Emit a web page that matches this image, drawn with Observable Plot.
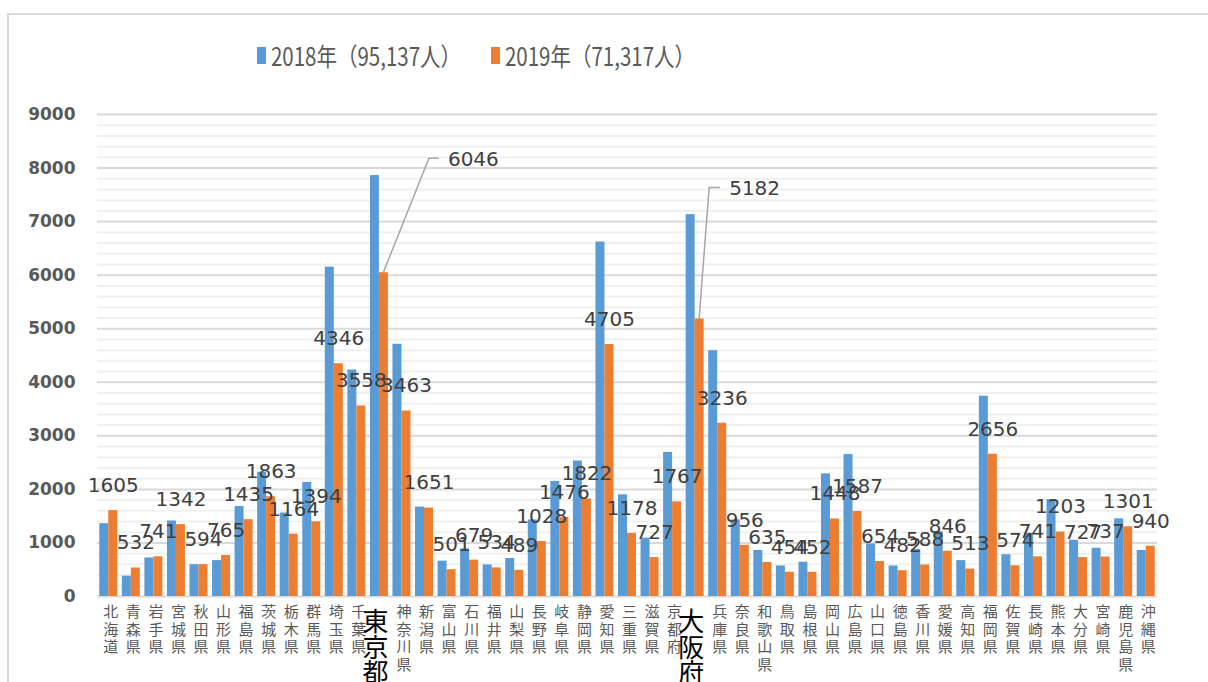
<!DOCTYPE html>
<html><head><meta charset="utf-8">
<script src="https://cdn.jsdelivr.net/npm/d3@7"></script>
<script src="https://cdn.jsdelivr.net/npm/@observablehq/plot@0.6"></script>
<style>
html,body{margin:0;padding:0;background:#fff;overflow:hidden;}
#wrap{position:relative;width:1208px;height:682px;overflow:hidden;background:#fff;}
#frame{position:absolute;left:7px;top:13px;width:1400px;height:900px;border:2px solid #D9D9D9;box-sizing:border-box;}
#chart{position:absolute;left:0;top:0;}
.item{position:absolute;top:35px;height:40px;display:flex;align-items:center;font-family:"Noto Sans CJK JP","Noto Sans",sans-serif;font-size:25px;color:#595959;white-space:nowrap;transform:scaleX(0.82);transform-origin:left center;}
.item i{display:inline-block;width:11px;height:17px;margin-right:6px;}
</style></head>
<body>
<div id="wrap"><div id="frame"></div><div id="chart"></div></div>
<script>
const prefectures = ["北海道","青森県","岩手県","宮城県","秋田県","山形県","福島県","茨城県","栃木県","群馬県","埼玉県","千葉県","東京都","神奈川県","新潟県","富山県","石川県","福井県","山梨県","長野県","岐阜県","静岡県","愛知県","三重県","滋賀県","京都府","大阪府","兵庫県","奈良県","和歌山県","鳥取県","島根県","岡山県","広島県","山口県","徳島県","香川県","愛媛県","高知県","福岡県","佐賀県","長崎県","熊本県","大分県","宮崎県","鹿児島県","沖縄県"];
const v2018 = [1360,380,720,1410,594,670,1680,2320,1560,2130,6150,4230,7860,4710,1670,660,890,590,710,1430,2150,2530,6620,1900,1090,2690,7130,4590,1430,860,570,640,2290,2650,980,570,880,1210,670,3740,780,1180,1810,1050,900,1450,860];
const v2019 = [1605,532,741,1342,594,765,1435,1863,1164,1394,4346,3558,6046,3463,1651,501,679,534,489,1028,1476,1822,4705,1178,727,1767,5182,3236,956,635,454,452,1448,1587,654,482,588,846,513,2656,574,741,1203,727,737,1301,940];
const seriesNames = ["2018年（95,137人）","2019年（71,317人）"];
const seriesColors = ["#5B9BD5","#ED7D31"];
const yTicks = [0,1000,2000,3000,4000,5000,6000,7000,8000,9000];
const highlighted = ["東京都","大阪府"];
const callouts = ["東京都","大阪府"];

const data = prefectures.map((p,i)=>({pref:p, v2018:v2018[i], v2019:v2019[i]}));

const W = 1208, H = 682, mL = 97, mR = 51, mT = 114, mB = 86;
const bw = (W - mL - mR) / prefectures.length;
const barW = 9;
const minor = d3.range(200, 9001, 200).filter(v => v % 1000 !== 0);
const font = "'Noto Sans CJK JP', 'Noto Sans', sans-serif";

const chart = Plot.plot({
  width: W, height: H,
  marginLeft: mL, marginRight: mR, marginTop: mT, marginBottom: mB,
  style: {fontFamily: font, background: "transparent", overflow: "visible"},
  x: {domain: prefectures, padding: 0, round: false, axis: null},
  y: {domain: [0, 9000], axis: null},
  marks: [
    Plot.ruleY(minor, {stroke: "#F0F0F0", strokeWidth: 2}),
    Plot.ruleY(yTicks, {stroke: "#D9D9D9", strokeWidth: 2}),
    Plot.axisY({ticks: yTicks, tickSize: 0, tickPadding: 22, tickFormat: d => String(d),
      fontSize: 17, fontWeight: "bold", fill: "#595959", fontFamily: "DejaVu Sans", label: null}),
    Plot.barY(data, {x: "pref", y: "v2018", fill: seriesColors[0], insetLeft: bw/2 - barW, insetRight: bw/2}),
    Plot.barY(data, {x: "pref", y: "v2019", fill: seriesColors[1], insetLeft: bw/2, insetRight: bw/2 - barW}),
    Plot.text(data.filter(d => !callouts.includes(d.pref)), {x: "pref", y: "v2019", text: d => String(d.v2019),
      dx: barW/2, dy: -25, fontSize: 20, fill: "#404040", fontFamily: "DejaVu Sans"}),
    Plot.text(data.filter(d => !highlighted.includes(d.pref)), {x: "pref", y: 0, text: d => [...d.pref].join("\n"),
      dx: 2, dy: 8, lineAnchor: "top", lineHeight: 1.17, fontSize: 15, fill: "#595959"}),
    Plot.text(data.filter(d => highlighted.includes(d.pref)), {x: "pref", y: 0, text: d => [...d.pref].join("\n"),
      dx: -4, dy: 17, lineAnchor: "top", lineHeight: 0.97, fontSize: 26, fill: "#000"})
  ]
});
document.getElementById("chart").appendChild(chart);

// callout leader lines for 東京都 and 大阪府, positioned through Plot's scales
const xs = chart.scale("x"), ys = chart.scale("y");
const yPix = v => ys.range[0] + (v - ys.domain[0]) / (ys.domain[1] - ys.domain[0]) * (ys.range[1] - ys.range[0]);
const xCenter = p => xs.range[0] + (prefectures.indexOf(p) + 0.5) * ((xs.range[1] - xs.range[0]) / prefectures.length);
const layout = {"東京都": {ex: 50, ey: -114, hx: 10}, "大阪府": {ex: 14.5, ey: -131, hx: 11}};
const svg = d3.select(chart);
for (const p of callouts) {
  const d = data.find(e => e.pref === p);
  const c = xCenter(p), x0 = c + barW/2, y0 = yPix(d.v2019);
  const L = layout[p];
  const x1 = c + L.ex, y1 = y0 + L.ey, x2 = x1 + L.hx;
  svg.append("path").attr("d", `M${x0},${y0}L${x1},${y1}L${x2},${y1}`)
    .attr("fill", "none").attr("stroke", "#A6A6A6").attr("stroke-width", 1.5);
  svg.append("text").attr("x", x2 + 9).attr("y", y1 + 1).attr("dy", "0.35em")
    .attr("text-anchor", "start")
    .attr("font-family", "DejaVu Sans").attr("font-size", 20).attr("fill", "#404040").text(String(d.v2019));
}

// legend
const legendLeft = [257, 491];
seriesNames.forEach((n, i) => {
  const el = document.createElement("div");
  el.className = "item";
  el.style.left = legendLeft[i] + "px";
  el.innerHTML = `<i style="background:${seriesColors[i]}"></i>${n}`;
  document.getElementById("wrap").appendChild(el);
});
</script>
</body></html>
